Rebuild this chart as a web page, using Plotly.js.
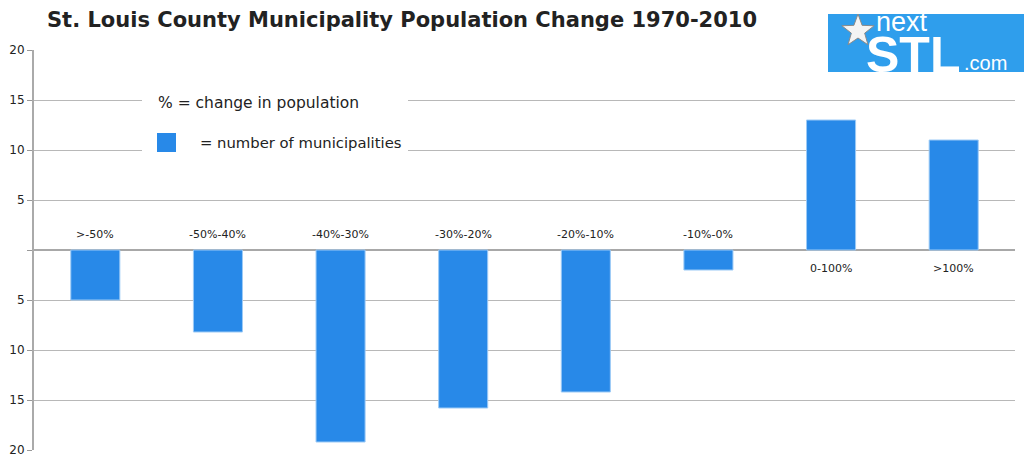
<!DOCTYPE html>
<html>
<head>
<meta charset="utf-8">
<script src="https://cdn.plot.ly/plotly-3.0.1.min.js"></script>
<style>
  html, body { margin: 0; padding: 0; background: #fff; }
  #chart { width: 1024px; height: 465px; }
</style>
</head>
<body>
<div id="chart"></div>
<script>
// Population change bands (1970-2010) and municipality counts per band.
// Declines are plotted below zero, gains above.
const categories = ['>-50%', '-50%-40%', '-40%-30%', '-30%-20%', '-20%-10%', '-10%-0%', '0-100%', '>100%'];
const municipalities = [-5, -8.2, -19.2, -15.8, -14.2, -2, 13, 11];
const tickValues = [20, 15, 10, 5, 0, -5, -10, -15, -20];
const tickLabels = ['20', '15', '10', '5', '', '5', '10', '15', '20'];

const barColor = '#2889e8';
const gridColor = '#b8b8b8';
const textFont = 'DejaVu Sans, Verdana, sans-serif';
const logoFont = 'Liberation Sans, Arial, sans-serif';

// Plot area in pixels, used to place the legend panel and logo.
const M = { l: 34, r: 9, t: 50, b: 15 };
const W = 1024 - M.l - M.r, H = 465 - M.t - M.b;
function px2paperX(x) { return (x - M.l) / W; }
function px2paperY(y) { return 1 - (y - M.t) / H; }

// Band names sit just outside the zero line, opposite to the bar.
const bandLabels = categories.map((c, i) => ({
  x: c, y: 0, xref: 'x', yref: 'y',
  text: c, showarrow: false,
  yshift: municipalities[i] < 0 ? 16 : -18,
  font: { family: textFont, size: 11, color: '#222' }
}));

// Five-point star for the logo.
function starPath(cx, cy, rOuter, rInner) {
  let d = '';
  for (let k = 0; k < 10; k++) {
    const r = k % 2 === 0 ? rOuter : rInner;
    const a = -Math.PI / 2 + k * Math.PI / 5;
    const u = px2paperX(cx + r * Math.cos(a)), v = px2paperY(cy + r * Math.sin(a));
    d += (k === 0 ? 'M' : 'L') + u.toFixed(5) + ',' + v.toFixed(5);
  }
  return d + 'Z';
}

const trace = {
  type: 'bar',
  x: categories,
  y: municipalities,
  marker: { color: barColor, line: { color: '#9ccaf6', width: 1 } },
  hoverinfo: 'x+y'
};

const layout = {
  width: 1024, height: 465,
  margin: M,
  paper_bgcolor: '#fff', plot_bgcolor: '#fff',
  showlegend: false,
  bargap: 0.6,
  title: {
    text: '<b>St. Louis County Municipality Population Change 1970-2010</b>',
    x: 47 / 1024, xanchor: 'left', y: 1 - 20 / 465, yanchor: 'middle',
    font: { family: textFont, size: 21, color: '#222' }
  },
  xaxis: {
    type: 'category',
    showticklabels: false, ticks: '', showgrid: false, zeroline: false,
    showline: false, fixedrange: true
  },
  yaxis: {
    range: [-20, 20],
    tickvals: tickValues, ticktext: tickLabels,
    ticks: 'outside', ticklen: 5, tickcolor: '#999',
    tickfont: { family: textFont, size: 12, color: '#222' },
    showgrid: true, gridcolor: gridColor, gridwidth: 1,
    zeroline: true, zerolinecolor: '#a8a8a8', zerolinewidth: 2,
    showline: true, linecolor: '#aaa', linewidth: 2,
    fixedrange: true
  },
  shapes: [
    // legend panel over the grid
    { type: 'rect', xref: 'paper', yref: 'paper', layer: 'above',
      x0: px2paperX(142), x1: px2paperX(408), y0: px2paperY(160), y1: px2paperY(84),
      fillcolor: '#fff', line: { width: 0 } },
    { type: 'rect', xref: 'paper', yref: 'paper', layer: 'above',
      x0: px2paperX(157), x1: px2paperX(176), y0: px2paperY(152), y1: px2paperY(133),
      fillcolor: barColor, line: { width: 0 } },
    // logo block
    { type: 'rect', xref: 'paper', yref: 'paper', layer: 'above',
      x0: px2paperX(828), x1: px2paperX(1024), y0: px2paperY(72), y1: px2paperY(14),
      fillcolor: '#2f9eec', line: { width: 0 } },
    { type: 'path', xref: 'paper', yref: 'paper', layer: 'above',
      path: starPath(858, 31, 17, 7),
      fillcolor: '#f4f4f4', line: { color: '#8a8a8a', width: 1 } }
  ],
  annotations: bandLabels.concat([
    { xref: 'paper', yref: 'paper', x: px2paperX(156), y: px2paperY(103),
      xanchor: 'left', yanchor: 'middle', showarrow: false,
      text: '% = change in population',
      font: { family: textFont, size: 15.5, color: '#222' } },
    { xref: 'paper', yref: 'paper', x: px2paperX(198), y: px2paperY(142),
      xanchor: 'left', yanchor: 'middle', showarrow: false,
      text: '= number of municipalities',
      font: { family: textFont, size: 14.8, color: '#222' } },
    { xref: 'paper', yref: 'paper', x: px2paperX(874), y: px2paperY(22),
      xanchor: 'left', yanchor: 'middle', showarrow: false,
      text: 'next',
      font: { family: logoFont, size: 27, color: '#fff' } },
    { xref: 'paper', yref: 'paper', x: px2paperX(864), y: px2paperY(55),
      xanchor: 'left', yanchor: 'middle', showarrow: false,
      text: '<b>STL</b>',
      font: { family: logoFont, size: 50, color: '#fff' } },
    { xref: 'paper', yref: 'paper', x: px2paperX(962), y: px2paperY(63),
      xanchor: 'left', yanchor: 'middle', showarrow: false,
      text: '.com',
      font: { family: logoFont, size: 20, color: '#fff' } }
  ])
};

Plotly.newPlot('chart', [trace], layout, { displayModeBar: false, staticPlot: true });
</script>
</body>
</html>
